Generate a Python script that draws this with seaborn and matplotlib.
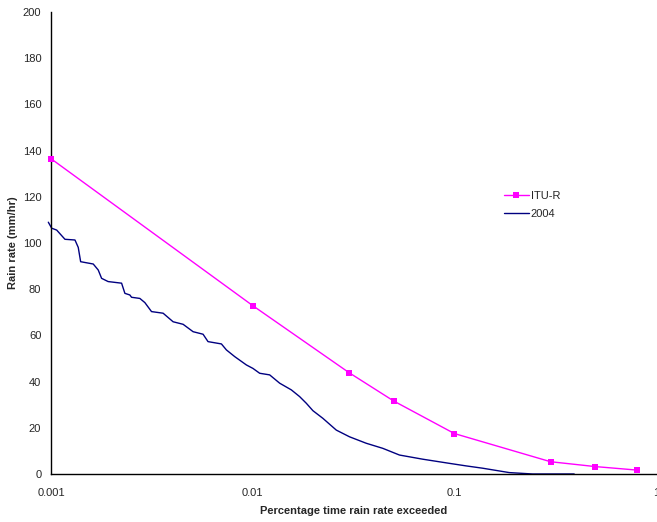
"""Rain rate exceedance: ITU-R model vs 2004 measurements."""

import matplotlib

matplotlib.use("Agg")
import matplotlib.pyplot as plt
import pandas as pd
import seaborn as sns

# ITU-R prediction (percentage of time exceeded, rain rate mm/hr)
itu_pct = [0.001, 0.01, 0.03, 0.05, 0.1, 0.3, 0.5, 0.8]
itu_rate = [136.5, 72.9, 43.9, 31.6, 17.5, 5.3, 3.2, 1.7]

meas_pct = [
    0.00097, 0.001008, 0.001067, 0.001173, 0.001315, 0.001365, 0.001403,
    0.00162, 0.001715, 0.001782, 0.00192, 0.002239, 0.002325, 0.00246,
    0.002509, 0.002758, 0.00292, 0.003151, 0.003597, 0.004031, 0.004519,
    0.005064, 0.005675, 0.006006, 0.006998, 0.007409, 0.008147, 0.009307,
    0.01003, 0.01083, 0.01214, 0.01361, 0.01555, 0.01709, 0.01845, 0.01989,
    0.02228, 0.02597, 0.0302, 0.03655, 0.04416, 0.05342, 0.06966, 0.09446,
    0.1143, 0.138, 0.1871, 0.2441, 0.3926,
]
meas_rate = [
    109.0, 106.4, 105.6, 101.6, 101.3, 98.1, 91.9,
    90.9, 88.3, 84.7, 83.3, 82.6, 78.2, 77.5,
    76.5, 76.0, 74.2, 70.3, 69.6, 65.9, 64.8,
    61.6, 60.5, 57.3, 56.3, 53.7, 50.8, 47.2,
    45.7, 43.6, 42.9, 39.3, 36.4, 33.5, 30.6, 27.4,
    24.1, 19.0, 16.1, 13.3, 11.1, 8.2, 6.4, 4.6,
    3.5, 2.5, 0.6, 0.0, 0.0,
]

itu_df = pd.DataFrame({"pct": itu_pct, "rate": itu_rate})
meas_df = pd.DataFrame({"pct": meas_pct, "rate": meas_rate})

sns.set_style("white")
plt.rcParams["font.family"] = ["Liberation Sans", "DejaVu Sans"]

fig = plt.figure(figsize=(6.57, 5.22), dpi=100)
ax = fig.add_axes([0.0776, 0.092, 0.921, 0.885])

sns.lineplot(data=itu_df, x="pct", y="rate", ax=ax, color="#FF00FF",
             linewidth=1.0, marker="s", markersize=5, markeredgewidth=0,
             estimator=None, label="ITU-R", clip_on=False, zorder=3)
sns.lineplot(data=meas_df, x="pct", y="rate", ax=ax, color="#000080",
             linewidth=1.0, estimator=None, label="2004", clip_on=False)

ax.set_xscale("log")
ax.set_xlim(0.001, 1)
ax.set_ylim(0, 200)
ax.set_yticks(range(0, 201, 20))
ax.set_xticks([0.001, 0.01, 0.1, 1])
ax.set_xticklabels(["0.001", "0.01", "0.1", "1"])
ax.minorticks_off()

for side in ["top", "right"]:
    ax.spines[side].set_visible(False)
for side in ["left", "bottom"]:
    ax.spines[side].set_color("black")
    ax.spines[side].set_linewidth(1.0)

ax.tick_params(axis="both", which="major", direction="out", length=4,
               width=1, color="black", labelsize=8, pad=3)
ax.tick_params(axis="x", pad=6)

ax.set_xlabel("Percentage time rain rate exceeded", fontsize=8,
              fontweight="bold", labelpad=6)
ax.set_ylabel("Rain rate (mm/hr)", fontsize=8, fontweight="bold",
              labelpad=3)

ax.get_legend().remove()
handles, labels = ax.get_legend_handles_labels()
fig.legend(handles, labels, loc="upper left", bbox_to_anchor=(0.752, 0.653),
           bbox_transform=fig.transFigure, frameon=False, fontsize=8,
           handlelength=2.2, handletextpad=0.2, labelspacing=0.7)

fig.savefig("out.png", dpi=100)
